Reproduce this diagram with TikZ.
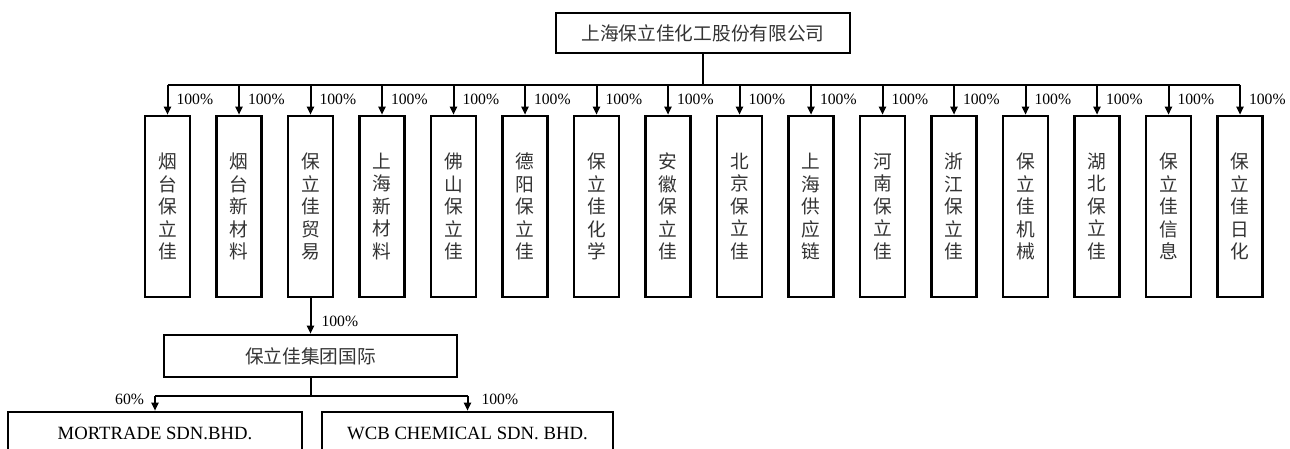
\documentclass[tikz,border=0pt]{standalone}
\usepackage{fontspec}
\setmainfont{Liberation Serif}
\newfontfamily\cjk{Noto Sans CJK SC}
\usepackage{tikz}
\usetikzlibrary{arrows.meta}
\usetikzlibrary{positioning}

\begin{document}
\begin{tikzpicture}[x=1pt,y=1pt,
	box/.style={draw,line width=2.5pt,minimum height=40pt,inner sep=0pt,text=black!80,font=\cjk\fontsize{18.7}{22.5}\selectfont},
	colbox/.style={box,minimum width=45pt,minimum height=181pt,align=center},
	latinbox/.style={box,minimum height=42pt,text=black,font=\fontsize{18.7}{22.5}\selectfont},
	link/.style={line width=2pt},
	arr/.style={link,-{Triangle[length=8pt,width=7pt]}},
	pct/.style={font=\fontsize{15.7}{18}\selectfont,inner sep=2pt}]
	\useasboundingbox (0,0) rectangle (1290,449);

	\node [box,minimum width=294pt] (top) at (703,416) {上海保立佳化工股份有限公司};
	\coordinate (bus) at (703,364);
	\draw [link] (top) -- (bus);

	% subsidiaries, one column each
	\foreach \name [count=\i from 0] in {{烟\\台\\保\\立\\佳},{烟\\台\\新\\材\\料},{保\\立\\佳\\贸\\易},{上\\海\\新\\材\\料},
		{佛\\山\\保\\立\\佳},{德\\阳\\保\\立\\佳},{保\\立\\佳\\化\\学},{安\\徽\\保\\立\\佳},
		{北\\京\\保\\立\\佳},{上\\海\\供\\应\\链},{河\\南\\保\\立\\佳},{浙\\江\\保\\立\\佳},
		{保\\立\\佳\\机\\械},{湖\\北\\保\\立\\佳},{保\\立\\佳\\信\\息},{保\\立\\佳\\日\\化}}{
		\node [colbox] (c\i) at ({167.5+71.5*\i},242.5) {\name};
		\draw [arr] (c\i.north |- bus) -- (c\i.north) node [pct,midway,right=6pt] {100\%};
	}
	\draw [link] (c0.north |- bus) -- (c15.north |- bus);

	\coordinate (lvl) at (0,93);
	\node [box,minimum width=293pt,minimum height=42pt] (intl) at (c2 |- lvl) {保立佳集团国际};
	\draw [arr] (c2) -- (intl) node [pct,pos=.65,right=8pt] {100\%};

	\coordinate (bus2) at (0,53);
	\node [latinbox,minimum width=294pt] (mor) at (155,16) {MORTRADE SDN.BHD.};
	\node [latinbox,minimum width=291pt] (wcb) at (467.5,16) {WCB CHEMICAL SDN. BHD.};
	\draw [link] (intl) -- (intl |- bus2);
	\draw [link] (mor.north |- bus2) -- (wcb.north |- bus2);
	\draw [arr] (mor.north |- bus2) -- (mor.north) node [pct,pos=.2,left=8pt] {60\%};
	\draw [arr] (wcb.north |- bus2) -- (wcb.north) node [pct,pos=.2,right=11pt] {100\%};

\end{tikzpicture}
\end{document}
